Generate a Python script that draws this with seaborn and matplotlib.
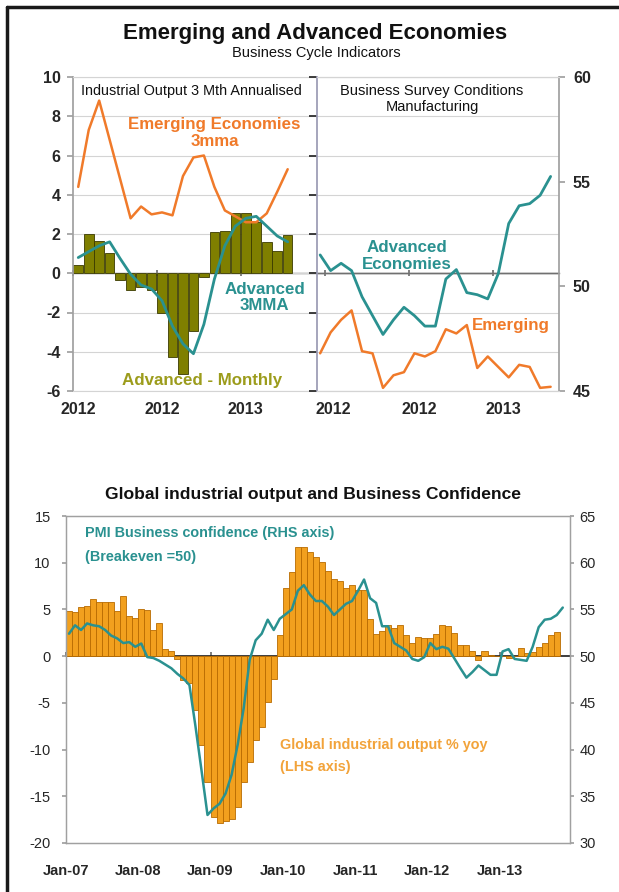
import matplotlib
matplotlib.use("Agg")
import matplotlib.pyplot as plt
import numpy as np
import seaborn as sns
from matplotlib.lines import Line2D

sns.set_theme(style="white")
plt.rcParams["font.family"] = ["Liberation Sans", "DejaVu Sans"]
plt.rcParams["axes.unicode_minus"] = False

ORANGE = "#f07a2a"
TEAL = "#2a9190"
OLIVE = "#7f7f00"
OLIVE_TXT = "#9c9c1c"
BAR_ORANGE = "#f2a01e"
BAR_EDGE = "#b86b00"
GRID = "#d4d4d4"
AXIS = "#a0a0a0"

# top left: industrial output 3 mth annualised (monthly)
adv_monthly = [0.4, 2.0, 1.65, 1.05, -0.35, -0.85, -0.7, -0.85, -2.0, -4.25, -5.15,
               -2.95, -0.2, 2.1, 2.15, 3.05, 3.05, 2.6, 1.6, 1.15, 1.95]
emg_3mma = [4.4, 7.3, 8.8, 6.8, 4.8, 2.8, 3.4, 3.0, 3.1, 2.95, 4.95, 5.9, 6.0, 4.4,
            3.2, 2.9, 2.6, 2.6, 3.05, 4.15, 5.3]
adv_3mma = [0.8, 1.1, 1.4, 1.6, 0.75, -0.05, -0.6, -0.8, -1.4, -2.7, -3.6, -4.1, -2.6,
            -0.3, 1.4, 2.4, 2.8, 2.9, 2.4, 1.9, 1.6]
top_left_labels = ["2012", "2012", "2013"]

# top right: business survey conditions manufacturing
adv_pmi = [51.5, 50.75, 51.1, 50.75, 49.5, 48.6, 47.7, 48.4, 49.0, 48.6, 48.1, 48.1,
           50.35, 50.8, 49.7, 49.6, 49.4, 50.6, 53.0, 53.85, 53.95, 54.35, 55.25]
emg_pmi = [46.8, 47.8, 48.4, 48.85, 46.9, 46.8, 45.15, 45.75, 45.9, 46.8, 46.65, 46.9,
           47.95, 47.75, 48.15, 46.1, 46.65, 46.15, 45.65, 46.25, 46.15, 45.15, 45.2]
top_right_labels = ["2012", "2012", "2013"]

# bottom: global industrial output % yoy (Jan-07 .. Oct-13)
global_ip = [4.8, 4.75, 5.3, 5.4, 6.1, 5.8, 5.8, 5.75, 4.85, 6.4, 4.3, 4.1,
             5.0, 4.9, 2.85, 3.5, 0.8, 0.55, -0.3, -2.6, -2.9, -5.8, -9.5, -13.5,
             -17.2, -17.9, -17.6, -17.4, -16.1, -13.5, -11.3, -9.0, -7.6, -4.9, -2.4, 2.25,
             7.25, 9.0, 11.7, 11.7, 11.2, 10.6, 10.1, 9.1, 8.3, 8.0, 7.3, 7.6,
             7.1, 7.1, 4.0, 2.35, 2.7, 3.35, 3.0, 3.3, 2.25, 1.36, 2.0, 1.95,
             1.9, 2.4, 3.3, 3.2, 2.5, 1.15, 1.15, 0.5, -0.4, 0.6, 0.1, 0.02,
             0.0, -0.25, 0.0, 0.82, 0.29, 0.46, 1.0, 1.36, 2.25, 2.54]
pmi_global = [52.4, 53.3, 52.8, 53.5, 53.3, 53.2, 52.8, 52.2, 51.9, 51.4, 51.5, 51.0,
              51.35, 49.9, 49.8, 49.5, 49.1, 48.7, 48.1, 47.6, 46.9, 42.5, 37.8, 33.0,
              33.7, 34.2, 35.3, 37.3, 40.5, 44.4, 49.6, 51.7, 52.4, 53.9, 52.8, 54.0,
              54.5, 55.0, 57.0, 57.6, 56.6, 55.9, 55.9, 55.3, 54.4, 55.0, 55.6, 55.9,
              57.0, 58.2, 56.2, 55.7, 53.2, 53.2, 51.4, 51.0, 50.6, 49.7, 49.5, 49.9,
              51.4, 50.75, 51.0, 50.8, 49.75, 48.7, 47.7, 48.3, 49.0, 48.5, 48.0, 48.0,
              50.5, 50.75, 49.7, 49.6, 49.5, 51.0, 53.1, 53.9, 54.0, 54.4, 55.2]
bottom_labels = ["Jan-07", "Jan-08", "Jan-09", "Jan-10", "Jan-11", "Jan-12", "Jan-13"]

W, H = 619, 892
fig = plt.figure(figsize=(W / 100, H / 100), dpi=100)
fig.patch.set_facecolor("white")


def px_axes(x0, y0, x1, y1, **kw):
    """Axes from pixel box (top-left origin)."""
    return fig.add_axes([x0 / W, (H - y1) / H, (x1 - x0) / W, (y1 - y0) / H], **kw)


# frame of the page
fig.add_artist(Line2D([6.5 / W, 6.5 / W], [0, 1 - 6.5 / H], color="k", lw=2.5,
                      transform=fig.transFigure))
fig.add_artist(Line2D([6.5 / W, 1], [1 - 6.5 / H, 1 - 6.5 / H], color="k", lw=2.5,
                      transform=fig.transFigure))

fig.text(315 / W, 1 - 33 / H, "Emerging and Advanced Economies", ha="center",
         va="center", fontsize=16, fontweight="bold", color="#111111")
fig.text(316 / W, 1 - 53 / H, "Business Cycle Indicators", ha="center", va="center",
         fontsize=10.5, color="#111111")

# ---------------- top left panel ----------------
ax_l = px_axes(73, 77, 317, 391)
x_l = np.arange(len(adv_monthly))
sns.barplot(x=x_l, y=adv_monthly, ax=ax_l, native_scale=True, width=0.92,
            color=OLIVE, saturation=1, edgecolor="#3a3a00", linewidth=0.6,
            errorbar=None, zorder=2)
sns.lineplot(x=x_l, y=emg_3mma, ax=ax_l, color=ORANGE, lw=1.8, zorder=3)
sns.lineplot(x=x_l, y=adv_3mma, ax=ax_l, color=TEAL, lw=2.0, zorder=3)
ax_l.set_xlim(-0.5, 22.8)
ax_l.set_ylim(-6, 10)
ax_l.set_yticks(np.arange(-6, 11, 2))
ax_l.set_xticks([0, 8, 16], top_left_labels)
ax_l.yaxis.grid(True, color=GRID, lw=0.8, zorder=0)
ax_l.set_axisbelow(True)

# ---------------- top right panel ----------------
ax_r = px_axes(317, 77, 559, 391, sharey=ax_l)
ax_r.yaxis.grid(True, color=GRID, lw=0.8, zorder=0)
ax_r.set_axisbelow(True)
ax_r.tick_params(axis="y", left=False, labelleft=False)
ax_r.set_xlim(-0.3, 22.8)
ax_r.set_xticks([1.3, 9.5, 17.5], top_right_labels)
ax_r.axhline(0, color="#707070", lw=1.0, zorder=1)
ax_r2 = ax_r.twinx()
x_r = np.arange(len(adv_pmi))
sns.lineplot(x=x_r, y=adv_pmi, ax=ax_r2, color=TEAL, lw=2.0)
sns.lineplot(x=x_r, y=emg_pmi, ax=ax_r2, color=ORANGE, lw=1.8)
ax_r2.set_ylim(45, 60)
ax_r2.set_yticks([45, 50, 55, 60])
ax_r2.set_xlim(-0.3, 22.8)

for ax in (ax_l, ax_r, ax_r2):
    for s in ("top", "bottom"):
        ax.spines[s].set_color(GRID)
        ax.spines[s].set_linewidth(0.8)
ax_l.spines["right"].set_visible(False)
ax_l.spines["left"].set_color(AXIS)
ax_r.spines["left"].set_color("#9a9ab4")
ax_r.spines["right"].set_visible(False)
ax_r2.spines["left"].set_visible(False)
ax_r2.spines["right"].set_color(AXIS)

for ax in (ax_l, ax_r):
    ax.tick_params(axis="x", length=0, pad=8, labelsize=11.5)
    for lab in ax.get_xticklabels():
        lab.set_fontweight("bold")
ax_l.tick_params(axis="y", length=4, color=AXIS, direction="out", left=True,
                 pad=5, labelsize=11.5)
ax_r2.tick_params(axis="y", length=4, color=AXIS, direction="out", right=True,
                  pad=6, labelsize=11.5)
for lab in ax_l.get_yticklabels() + ax_r2.get_yticklabels():
    lab.set_fontweight("bold")

# zero lines with their tick marks
for ax, ticks in ((ax_l, [-0.5, 7.5, 15.5]), (ax_r, [0.5, 8.5, 16.5])):
    sec = ax.secondary_xaxis(6 / 16)
    sec.set_xticks(ticks)
    sec.tick_params(axis="x", direction="inout", length=5, color="#707070",
                    labelbottom=False, labeltop=False)
    sec.spines["bottom"].set_color("#707070")
    sec.spines["bottom"].set_linewidth(1.0)

ax_l.text(0.033, 0.955, "Industrial Output 3 Mth Annualised", transform=ax_l.transAxes,
          ha="left", va="center", fontsize=10.4, color="#111111")
ax_l.text(13.0, 7.15, "Emerging Economies\n3mma", ha="center", va="center",
          fontsize=12.2, fontweight="bold", color=ORANGE, linespacing=1.1)
ax_l.text(17.8, -1.23, "Advanced\n3MMA", ha="center", va="center", fontsize=12.2,
          fontweight="bold", color=TEAL, linespacing=1.1)
ax_l.text(11.8, -5.49, "Advanced - Monthly", ha="center", va="center", fontsize=12.2,
          fontweight="bold", color=OLIVE_TXT)
ax_r.text(0.475, 0.93, "Business Survey Conditions\nManufacturing",
          transform=ax_r.transAxes, ha="center", va="center", fontsize=10.5,
          color="#111111", linespacing=1.15)
ax_r2.text(8.3, 51.45, "Advanced\nEconomies", ha="center", va="center", fontsize=12.2,
           fontweight="bold", color=TEAL, linespacing=1.1)
ax_r2.text(18.2, 48.13, "Emerging", ha="center", va="center", fontsize=12.2,
           fontweight="bold", color=ORANGE)

# ---------------- bottom chart ----------------
fig.text(313 / W, 1 - 495 / H, "Global industrial output and Business Confidence",
         ha="center", va="center", fontsize=12.6, fontweight="bold", color="#111111")
ax_b = px_axes(66, 516, 570, 843)
x_b = np.arange(len(global_ip))
sns.barplot(x=x_b, y=global_ip, ax=ax_b, native_scale=True, width=1.0,
            color=BAR_ORANGE, saturation=1, edgecolor=BAR_EDGE, linewidth=0.6,
            errorbar=None)
ax_b.set_xlim(-0.5, 83.2)
ax_b.set_ylim(-20, 15)
ax_b.set_yticks(np.arange(-20, 16, 5))
ax_b.set_xticks(np.arange(len(bottom_labels)) * 12 - 0.5, bottom_labels)
ax_b2 = ax_b.twinx()
sns.lineplot(x=np.arange(len(pmi_global)), y=pmi_global, ax=ax_b2, color=TEAL, lw=1.8)
ax_b2.set_ylim(30, 65)
ax_b2.set_yticks(np.arange(30, 66, 5))
ax_b2.set_xlim(-0.5, 83.2)

for ax in (ax_b, ax_b2):
    for s in ax.spines.values():
        s.set_color(AXIS)
        s.set_linewidth(0.9)
ax_b.tick_params(axis="x", length=0, pad=15, labelsize=10.5)
for lab in ax_b.get_xticklabels():
    lab.set_fontweight("bold")
ax_b.tick_params(axis="y", length=3, color=AXIS, direction="out", left=True, pad=8,
                 labelsize=10.5)
ax_b2.tick_params(axis="y", length=3, color=AXIS, direction="out", right=True, pad=4,
                  labelsize=10.5)

sec_b = ax_b.secondary_xaxis(20 / 35)
sec_b.set_xticks(np.arange(len(bottom_labels)) * 12 - 0.5)
sec_b.tick_params(axis="x", direction="out", length=3, color="#707070",
                  labelbottom=False, labeltop=False)
sec_b.spines["bottom"].set_color("#707070")
sec_b.spines["bottom"].set_linewidth(1.0)

ax_b.text(0.038, 0.948, "PMI Business confidence (RHS axis)", transform=ax_b.transAxes,
          ha="left", va="center", fontsize=10.4, fontweight="bold", color=TEAL)
ax_b.text(0.038, 0.875, "(Breakeven =50)", transform=ax_b.transAxes, ha="left",
          va="center", fontsize=10.4, fontweight="bold", color=TEAL)
ax_b.text(0.4246, 0.30, "Global industrial output % yoy", transform=ax_b.transAxes,
          ha="left", va="center", fontsize=10.4, fontweight="bold", color="#f2a33a")
ax_b.text(0.4246, 0.232, "(LHS axis)", transform=ax_b.transAxes, ha="left",
          va="center", fontsize=10.4, fontweight="bold", color="#f2a33a")

fig.savefig("out.png", dpi=100)
